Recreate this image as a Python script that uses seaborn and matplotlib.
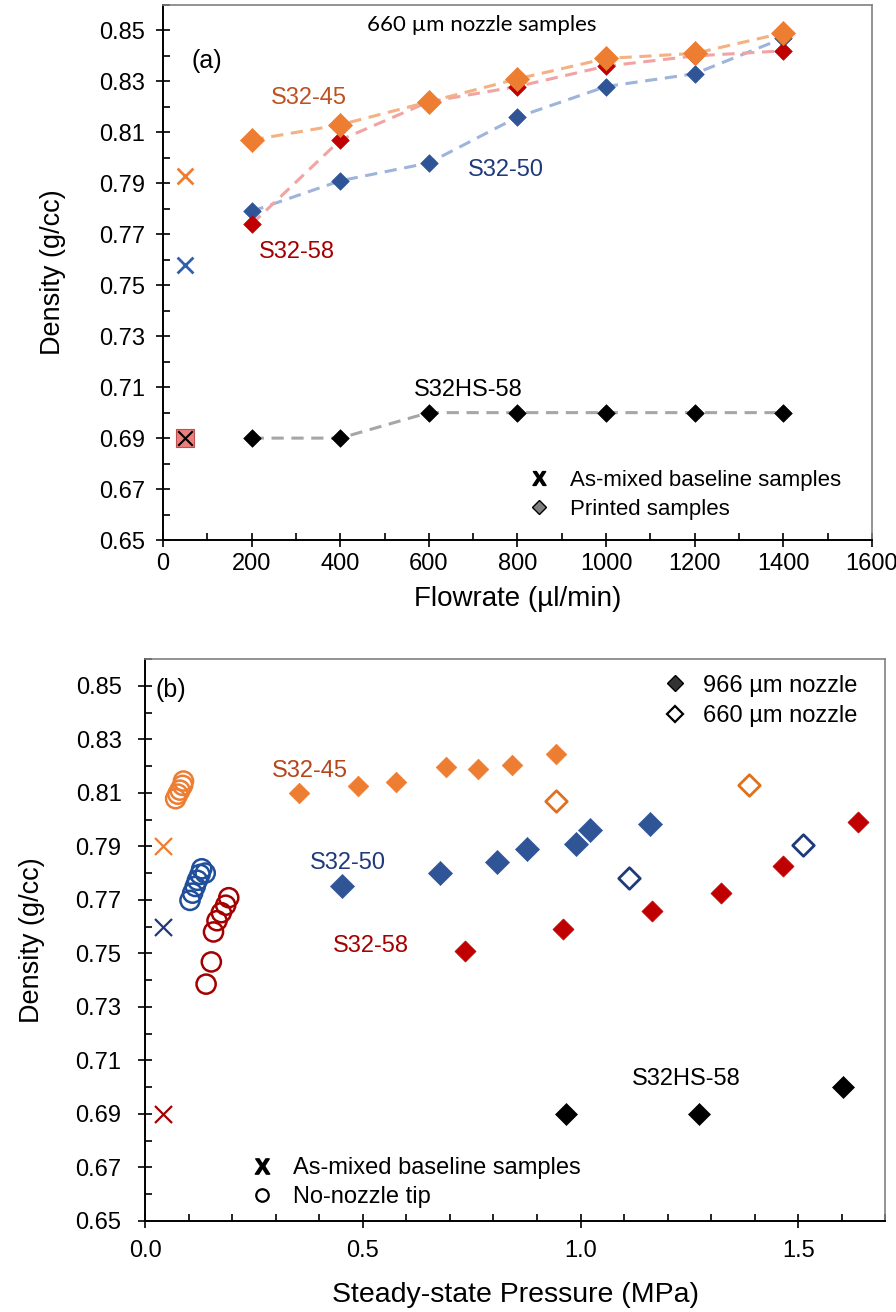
import numpy as np
import pandas as pd
import matplotlib
matplotlib.use('Agg')
import matplotlib.pyplot as plt
import seaborn as sns
from matplotlib.lines import Line2D
from matplotlib.ticker import MultipleLocator, FormatStrFormatter

sns.set_theme(style='white')
plt.rcParams['font.family'] = ['Liberation Sans', 'DejaVu Sans']
plt.rcParams['mathtext.fontset'] = 'custom'
plt.rcParams['mathtext.bf'] = 'Liberation Sans:bold'
plt.rcParams['mathtext.rm'] = 'Liberation Sans'
plt.rcParams['text.color'] = 'black'
plt.rcParams['legend.labelcolor'] = 'black'

# ---------------- Panel (a) data: density vs flowrate (660 um nozzle) -------------
flowrate = [200, 400, 600, 800, 1000, 1200, 1400]
a_s32_45 = [0.807, 0.813, 0.822, 0.831, 0.839, 0.841, 0.849]
a_s32_58 = [0.774, 0.807, 0.822, 0.828, 0.836, 0.840, 0.842]
a_s32_50 = [0.779, 0.791, 0.798, 0.816, 0.828, 0.833, 0.847]
a_s32hs_58 = [0.690, 0.690, 0.700, 0.700, 0.700, 0.700, 0.700]
a_base_flow = [50]
a_base_45 = [0.793]
a_base_50 = [0.758]
a_base_hs58 = [0.690]

# ---------------- Panel (b) data: density vs steady-state pressure ----------------
b_45_p = [0.353, 0.489, 0.577, 0.690, 0.765, 0.843, 0.944]
b_45_d = [0.810, 0.8125, 0.814, 0.8195, 0.819, 0.8205, 0.8245]
b_45_660_p = [0.944, 1.386]
b_45_660_d = [0.807, 0.813]
b_50_p = [0.453, 0.677, 0.808, 0.877, 0.989, 1.021, 1.160]
b_50_d = [0.775, 0.780, 0.784, 0.789, 0.791, 0.796, 0.7985]
b_50_660_p = [1.112, 1.511]
b_50_660_d = [0.778, 0.7905]
b_58_p = [0.734, 0.959, 1.164, 1.323, 1.466, 1.638]
b_58_d = [0.751, 0.759, 0.766, 0.7725, 0.7825, 0.799]
b_hs_p = [0.966, 1.273, 1.603]
b_hs_d = [0.690, 0.690, 0.700]
b_tip45_p = [0.070, 0.075, 0.080, 0.086, 0.088]
b_tip45_d = [0.8078, 0.8095, 0.811, 0.8128, 0.8144]
b_tip50_p = [0.103, 0.109, 0.115, 0.120, 0.126, 0.130, 0.138]
b_tip50_d = [0.7698, 0.7725, 0.775, 0.7773, 0.7795, 0.7816, 0.780]
b_tip58_p = [0.140, 0.152, 0.157, 0.165, 0.175, 0.185, 0.192]
b_tip58_d = [0.7385, 0.7468, 0.758, 0.7622, 0.7652, 0.768, 0.7708]
b_base_p = [0.04, 0.04, 0.04]
b_base_d = [0.790, 0.760, 0.690]

yticks = [0.65, 0.67, 0.69, 0.71, 0.73, 0.75, 0.77, 0.79, 0.81, 0.83, 0.85]

ORANGE = '#ED7D31'
RED = '#C00000'
BLUE = '#2F5597'
NAVY = '#1F3A7A'
DKRED = '#A50000'

fig = plt.figure(figsize=(8.96, 13.12), dpi=100)
ax1 = fig.add_axes([0.182, 0.5884, 0.791, 0.4078])
ax2 = fig.add_axes([0.162, 0.0694, 0.826, 0.4283])


def style_axes(ax):
    for s in ['top', 'right']:
        ax.spines[s].set_color('#808080')
        ax.spines[s].set_linewidth(1.2)
    for s in ['left', 'bottom']:
        ax.spines[s].set_color('black')
        ax.spines[s].set_linewidth(1.4)
    ax.tick_params(which='major', direction='inout', length=10, width=1.2,
                   color='black', labelsize=17, labelcolor='black', pad=4)
    ax.tick_params(which='minor', direction='in', length=5, width=1.2, color='black')
    ax.tick_params(axis='y', which='major', pad=8)
    ax.tick_params(top=False, right=False, which='both')
    ax.tick_params(left=True, bottom=True, which='both')
    ax.set_ylim(0.65, 0.86)
    ax.set_yticks(yticks)
    ax.yaxis.set_minor_locator(MultipleLocator(0.01))
    ax.yaxis.set_major_formatter(FormatStrFormatter('%.2f'))
    ax.grid(False)
    ax.set_facecolor('white')


# ---------------- Panel (a) ----------------
style_axes(ax1)
ax1.set_xlim(0, 1600)
ax1.xaxis.set_major_locator(MultipleLocator(200))
ax1.xaxis.set_minor_locator(MultipleLocator(100))

dash = (0, (4, 2.5))
line_specs = [
    (a_s32_50, '#9DB4DB', BLUE, 80),
    (a_s32_58, '#F2A3A3', RED, 80),
    (a_s32_45, '#F4B183', ORANGE, 150),
    (a_s32hs_58, '#A6A6A6', 'black', 80),
]
for vals, lc, mc, sz in line_specs:
    sns.lineplot(x=flowrate, y=vals, ax=ax1, color=lc, linewidth=2.2,
                 linestyle=dash, sort=False, estimator=None, zorder=2)
for vals, lc, mc, sz in line_specs:
    sns.scatterplot(x=flowrate, y=vals, ax=ax1, marker='D', s=sz, color=mc,
                    edgecolor=mc, linewidth=0.5, zorder=3)

sns.scatterplot(x=a_base_flow, y=a_base_45, ax=ax1, marker='x', s=130,
                color=ORANGE, linewidth=2, zorder=3)
sns.scatterplot(x=a_base_flow, y=a_base_50, ax=ax1, marker='x', s=130,
                color='#2F5FB0', linewidth=2, zorder=3)
sns.scatterplot(x=a_base_flow, y=a_base_hs58, ax=ax1, marker='s', s=150,
                color='#EE7E7E', edgecolor='#C05050', linewidth=0.8, zorder=3)
sns.scatterplot(x=a_base_flow, y=a_base_hs58, ax=ax1, marker='x', s=110,
                color='black', linewidth=1.5, zorder=4)

ax1.text(720, 0.852, '660 µm nozzle samples', fontsize=16, ha='center', va='center',
         family=['Lato', 'DejaVu Sans'], color='black')
ax1.text(65, 0.838, '(a)', fontsize=18, ha='left', va='center', color='black')
ax1.text(330, 0.8235, 'S32-45', fontsize=17, ha='center', va='center', color='#C0501F')
ax1.text(774, 0.7952, 'S32-50', fontsize=17, ha='center', va='center', color=NAVY)
ax1.text(302, 0.7632, 'S32-58', fontsize=17, ha='center', va='center', color=DKRED)
ax1.text(690, 0.709, 'S32HS-58', fontsize=17, ha='center', va='center', color='black')

h_a = [Line2D([], [], ls='none', marker='$\\mathbf{X}$', color='black', ms=10),
       Line2D([], [], ls='none', marker='D', mfc='#7F7F7F', mec='black', mew=1, ms=7)]
ax1.legend(h_a, ['As-mixed baseline samples', 'Printed samples'], frameon=False,
           loc='lower left', bbox_to_anchor=(0.48, 0.0), fontsize=16,
           handletextpad=0.7, labelspacing=0.35, handlelength=1.4)

ax1.set_xlabel('Flowrate (µl/min)', fontsize=20, color='black', labelpad=8)
ax1.set_ylabel('Density (g/cc)', fontsize=19.5, color='black', labelpad=24)

# ---------------- Panel (b) ----------------
style_axes(ax2)
ax2.set_xlim(0, 1.7)
ax2.set_xticks([0.0, 0.5, 1.0, 1.5])
ax2.xaxis.set_minor_locator(MultipleLocator(0.1))
ax2.xaxis.set_major_formatter(FormatStrFormatter('%.1f'))
ax2.tick_params(axis='x', which='major', pad=9)
ax2.tick_params(axis='y', which='major', pad=12)

# no-nozzle tip (open circles)
for px, dy, c in [(b_tip45_p, b_tip45_d, ORANGE), (b_tip50_p, b_tip50_d, '#1F4E9A'),
                  (b_tip58_p, b_tip58_d, DKRED)]:
    sns.scatterplot(x=px, y=dy, ax=ax2, marker='o', s=190, color=c,
                    facecolor='none', edgecolor=c, linewidth=1.8, zorder=3)

# 966 um nozzle (filled diamonds)
for px, dy, c, sz in [(b_45_p, b_45_d, ORANGE, 110), (b_50_p, b_50_d, BLUE, 150),
                      (b_58_p, b_58_d, RED, 115), (b_hs_p, b_hs_d, 'black', 125)]:
    sns.scatterplot(x=px, y=dy, ax=ax2, marker='D', s=sz, color=c,
                    edgecolor=c, linewidth=0.5, zorder=3)

# 660 um nozzle (open diamonds)
for px, dy, c in [(b_45_660_p, b_45_660_d, '#E0701F'), (b_50_660_p, b_50_660_d, NAVY)]:
    sns.scatterplot(x=px, y=dy, ax=ax2, marker='D', s=120, color=c,
                    facecolor='white', edgecolor=c, linewidth=2, zorder=3)

# as-mixed baselines
for py, c in zip(b_base_d, [ORANGE, NAVY, DKRED]):
    sns.scatterplot(x=[b_base_p[0]], y=[py], ax=ax2, marker='x', s=150, color=c,
                    linewidth=1.6, zorder=3)

ax2.text(0.058, 0.8485, '(b)', fontsize=18, ha='center', va='center', color='black')
ax2.text(0.378, 0.8182, 'S32-45', fontsize=17, ha='center', va='center', color='#B5461A')
ax2.text(0.466, 0.7839, 'S32-50', fontsize=17, ha='center', va='center', color=NAVY)
ax2.text(0.518, 0.7529, 'S32-58', fontsize=17, ha='center', va='center', color=DKRED)
ax2.text(1.243, 0.703, 'S32HS-58', fontsize=17, ha='center', va='center', color='black')

h_b1 = [Line2D([], [], ls='none', marker='D', mfc='#333333', mec='black', ms=8.5),
        Line2D([], [], ls='none', marker='D', mfc='white', mec='black', mew=1.6, ms=8)]
leg1 = ax2.legend(h_b1, ['966 µm nozzle', '660 µm nozzle'], frameon=False,
                  loc='upper left', bbox_to_anchor=(0.665, 1.01), fontsize=17,
                  handletextpad=0.5, labelspacing=0.35, handlelength=1.4)
ax2.add_artist(leg1)
h_b2 = [Line2D([], [], ls='none', marker='$\\mathbf{X}$', color='black', ms=11),
        Line2D([], [], ls='none', marker='o', mfc='white', mec='black', mew=1.6, ms=9)]
ax2.legend(h_b2, ['As-mixed baseline samples', 'No-nozzle tip'], frameon=False,
           loc='lower left', bbox_to_anchor=(0.107, -0.015), fontsize=17,
           handletextpad=0.6, labelspacing=0.3, handlelength=1.4)

ax2.set_xlabel('Steady-state Pressure (MPa)', fontsize=20.5, color='black', labelpad=14)
ax2.set_ylabel('Density (g/cc)', fontsize=19.5, color='black', labelpad=22)

fig.savefig('out.png', dpi=100, facecolor='white')
